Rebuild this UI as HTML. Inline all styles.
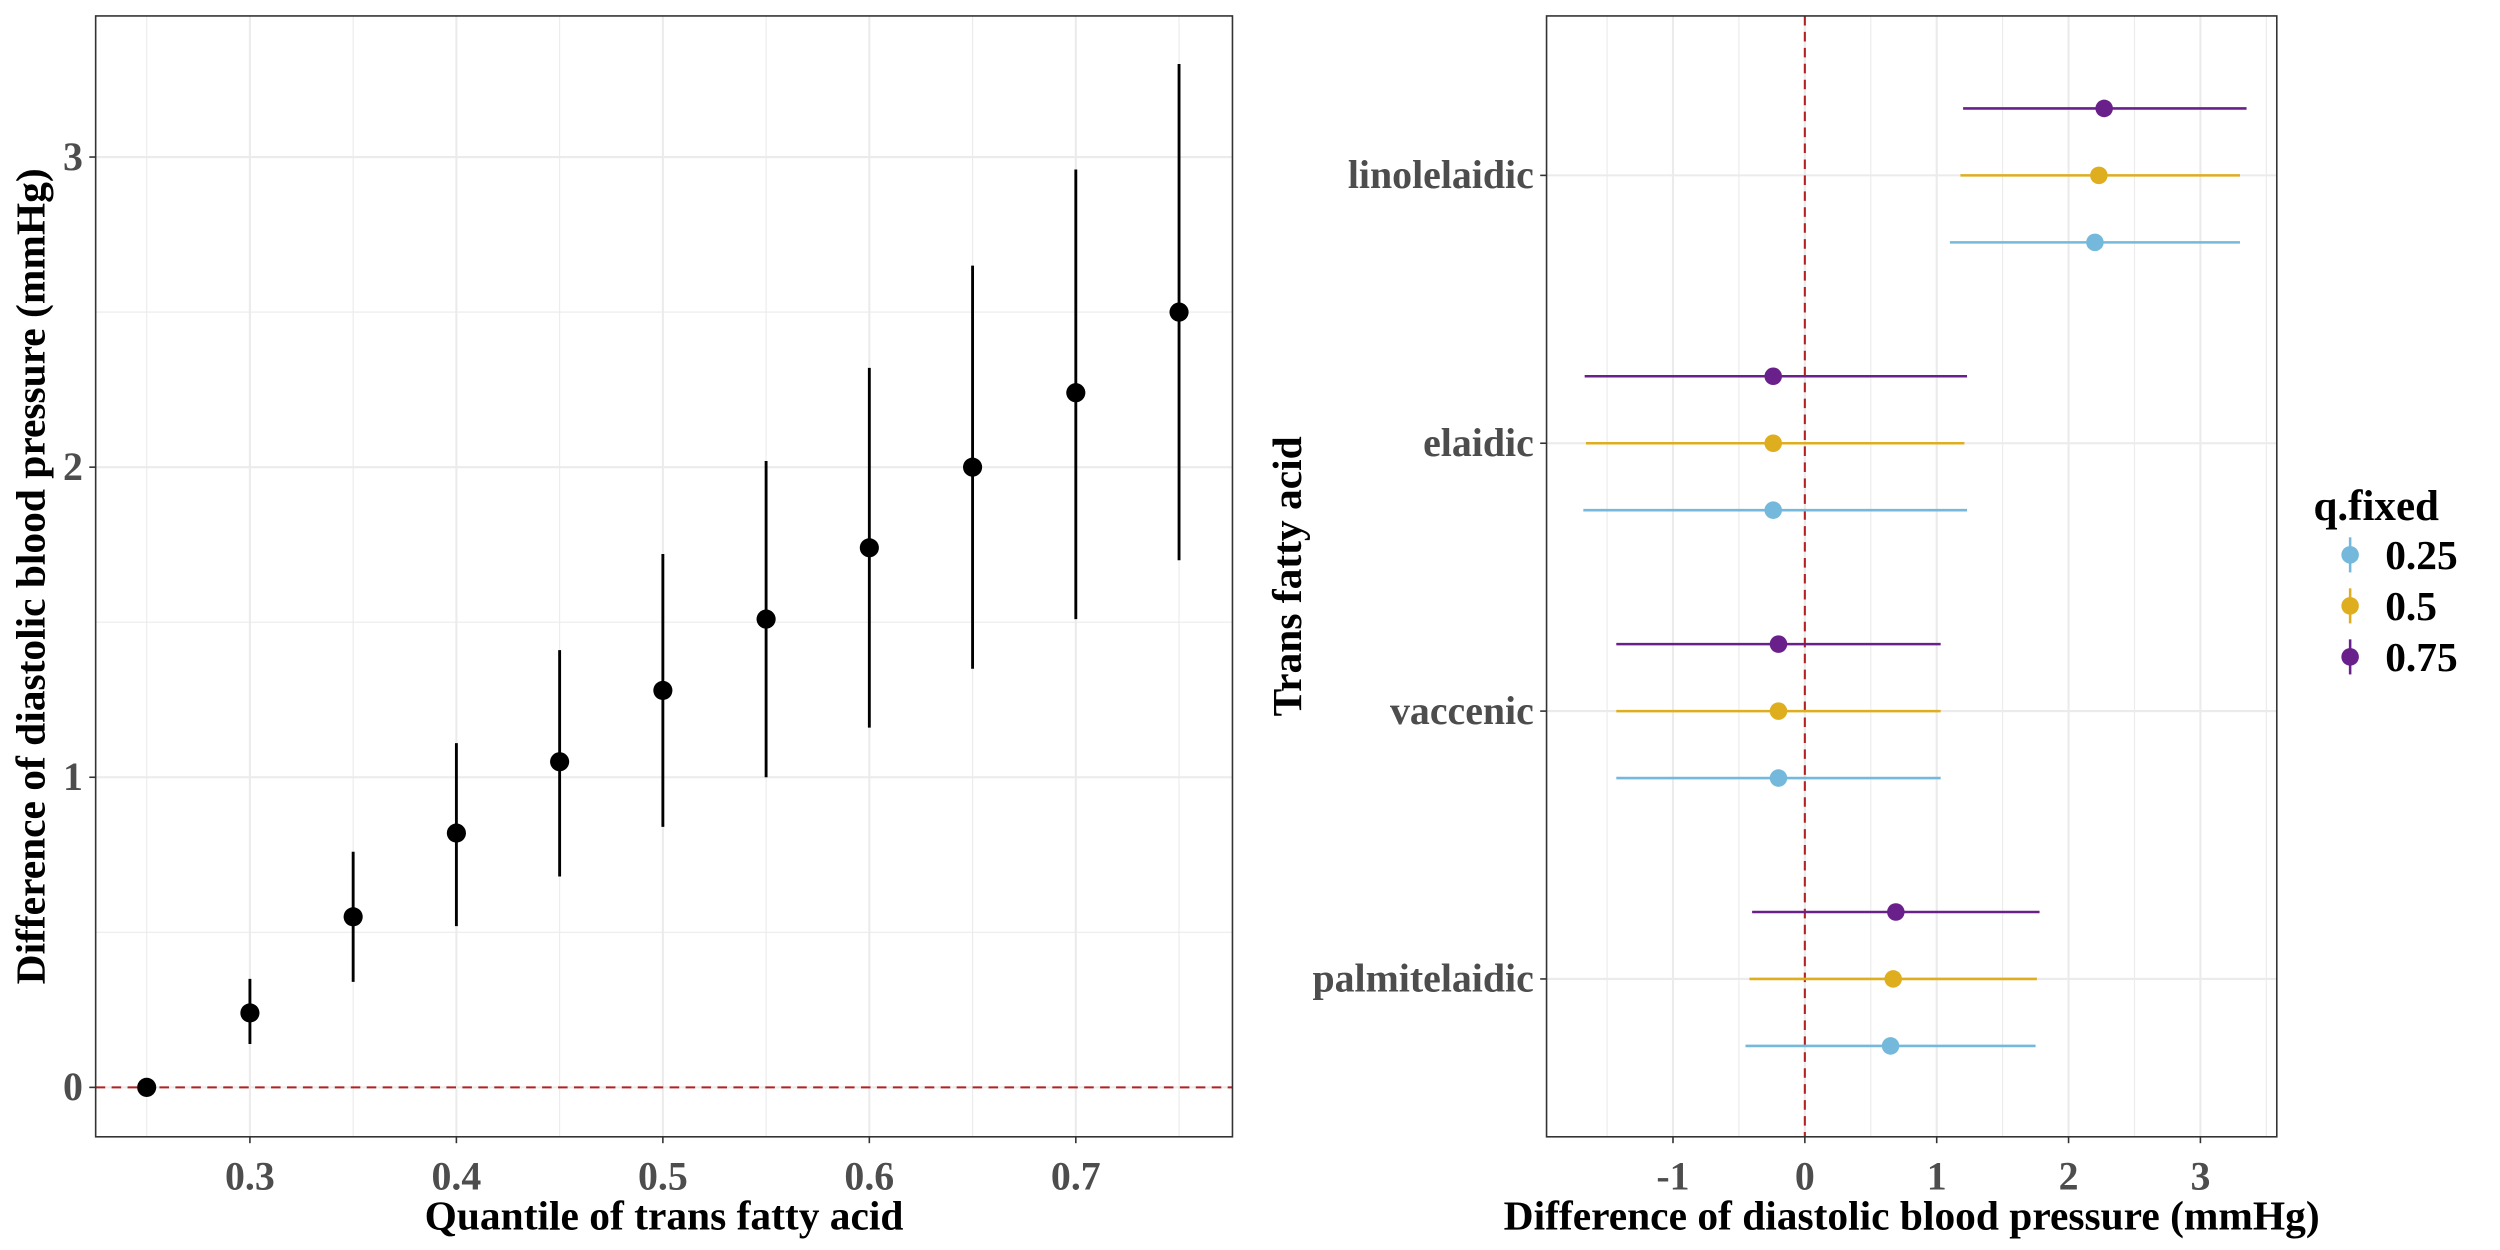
<!DOCTYPE html>
<html><head><meta charset="utf-8"><style>
html,body{margin:0;padding:0;background:#fff;}
svg{display:block;font-family:"Liberation Serif",serif;font-weight:bold;}
</style></head><body>
<svg id="chart" width="2500" height="1250" viewBox="0 0 1568 784" xmlns="http://www.w3.org/2000/svg"></svg>
<script>
// Left panel data
const quantiles = [0.25,0.30,0.35,0.40,0.45,0.50,0.55,0.60,0.65,0.70,0.75];
const estimates = [0,0.24,0.55,0.82,1.05,1.28,1.51,1.74,2.00,2.24,2.50];
const lowerCI = [0,0.14,0.34,0.52,0.68,0.84,1.00,1.16,1.35,1.51,1.70];
const upperCI = [0,0.35,0.76,1.11,1.41,1.72,2.02,2.32,2.65,2.96,3.30];
const leftXTicks = [0.3,0.4,0.5,0.6,0.7];
const leftYTicks = [0,1,2,3];
// Right panel data
const acids = ["palmitelaidic","vaccenic","elaidic","linolelaidic"];
const qLevels = ["0.25","0.5","0.75"];
const est025 = [0.65,-0.20,-0.24,2.20];
const est050 = [0.67,-0.20,-0.24,2.23];
const est075 = [0.69,-0.20,-0.24,2.27];
const lo025 = [-0.45,-1.43,-1.68,1.10];
const lo050 = [-0.42,-1.43,-1.66,1.18];
const lo075 = [-0.40,-1.43,-1.67,1.20];
const hi025 = [1.75,1.03,1.23,3.30];
const hi050 = [1.76,1.03,1.21,3.30];
const hi075 = [1.78,1.03,1.23,3.35];
const rightXTicks = [-1,0,1,2,3];

const NS="http://www.w3.org/2000/svg";
const svg=document.getElementById('chart');
function mk(tag,attrs,parent){const e=document.createElementNS(NS,tag);for(const k in attrs)e.setAttribute(k,attrs[k]);(parent||svg).appendChild(e);return e;}
const TICK=25, TITLE=26;

// ---------- Left panel ----------
const L={x0:60,x1:773,y0:10,y1:713};
const lx=v=>92+(v-0.25)*1295;
const ly=v=>682-v*194.5;
const gL=mk('g',{});


for(const v of [0.25,0.35,0.45,0.55,0.65,0.75]){const l=mk('line',{x1:lx(v),x2:lx(v),y1:L.y0,y2:L.y1,stroke:'#ebebeb','stroke-width':0.7},gL);}
for(const v of [0.5,1.5,2.5]){const l=mk('line',{x1:L.x0,x2:L.x1,y1:ly(v),y2:ly(v),stroke:'#ebebeb','stroke-width':0.7},gL);}
for(const v of leftXTicks){const l=mk('line',{x1:lx(v),x2:lx(v),y1:L.y0,y2:L.y1,stroke:'#ebebeb','stroke-width':1.3},gL);
 const t=mk('line',{x1:lx(v),x2:lx(v),y1:L.y1,y2:L.y1+4,stroke:'#333','stroke-width':1},gL);
 const tx=mk('text',{x:lx(v),y:L.y1+33,'text-anchor':'middle','font-size':TICK,fill:'#4d4d4d'},gL);tx.textContent=String(v);}
for(const v of leftYTicks){const l=mk('line',{x1:L.x0,x2:L.x1,y1:ly(v),y2:ly(v),stroke:'#ebebeb','stroke-width':1.3},gL);
 const t=mk('line',{x1:L.x0-4,x2:L.x0,y1:ly(v),y2:ly(v),stroke:'#333','stroke-width':1},gL);
 const tx=mk('text',{x:L.x0-8,y:ly(v)+8,'text-anchor':'end','font-size':TICK,fill:'#4d4d4d'},gL);tx.textContent=String(v);}
const ref=mk('line',{x1:L.x0,x2:L.x1,y1:ly(0),y2:ly(0),stroke:'#b22222','stroke-width':1.3,'stroke-dasharray':'6,4'},gL);

quantiles.forEach((q,i)=>{
 const e=mk('line',{x1:lx(q),x2:lx(q),y1:ly(lowerCI[i]),y2:ly(upperCI[i]),stroke:'#000','stroke-width':1.8},gL);
 
 const c=mk('circle',{cx:lx(q),cy:ly(estimates[i]),r:6,fill:'#000'},gL);
 
});
const bL=mk('rect',{x:L.x0,y:L.y0,width:L.x1-L.x0,height:L.y1-L.y0,fill:'none',stroke:'#333','stroke-width':1},gL);

let t1=mk('text',{x:(L.x0+L.x1)/2,y:771,'text-anchor':'middle','font-size':TITLE,fill:'#000'},gL);
t1.textContent='Quantile of trans fatty acid';
let t2=mk('text',{x:0,y:0,'text-anchor':'middle','font-size':TITLE,fill:'#000',transform:'translate(28,'+((L.y0+L.y1)/2)+') rotate(-90)'},gL);
t2.textContent='Difference of diastolic blood pressure (mmHg)';

// ---------- Right panel ----------
const R={x0:970,x1:1428,y0:10,y1:713};
const rx=v=>1132+v*82.7;
const ry=i=>614-i*168;
const gR=mk('g',{});


for(const v of [-1.5,-0.5,0.5,1.5,2.5,3.5]){const l=mk('line',{x1:rx(v),x2:rx(v),y1:R.y0,y2:R.y1,stroke:'#ebebeb','stroke-width':0.7},gR);}
for(const v of rightXTicks){const l=mk('line',{x1:rx(v),x2:rx(v),y1:R.y0,y2:R.y1,stroke:'#ebebeb','stroke-width':1.3},gR);
 const t=mk('line',{x1:rx(v),x2:rx(v),y1:R.y1,y2:R.y1+4,stroke:'#333','stroke-width':1},gR);
 const tx=mk('text',{x:rx(v),y:R.y1+33,'text-anchor':'middle','font-size':TICK,fill:'#4d4d4d'},gR);tx.textContent=String(v);}
acids.forEach((a,i)=>{const l=mk('line',{x1:R.x0,x2:R.x1,y1:ry(i),y2:ry(i),stroke:'#ebebeb','stroke-width':1.3},gR);
 const t=mk('line',{x1:R.x0-4,x2:R.x0,y1:ry(i),y2:ry(i),stroke:'#333','stroke-width':1},gR);
 const tx=mk('text',{x:R.x0-8,y:ry(i)+8,'text-anchor':'end','font-size':TICK,fill:'#4d4d4d'},gR);tx.textContent=a;});
const ref2=mk('line',{x1:rx(0),x2:rx(0),y1:R.y0,y2:R.y1,stroke:'#b22222','stroke-width':1.3,'stroke-dasharray':'6,4'},gR);

const colors=['#74b9dc','#dfae1f','#6a208a'];
const offs=[42,0,-42];
const series=[[est025,lo025,hi025],[est050,lo050,hi050],[est075,lo075,hi075]];
series.forEach((s,k)=>{acids.forEach((a,i)=>{const y=ry(i)+offs[k];
 const e=mk('line',{x1:rx(s[1][i]),x2:rx(s[2][i]),y1:y,y2:y,stroke:colors[k],'stroke-width':1.6},gR);
 
 const c=mk('circle',{cx:rx(s[0][i]),cy:y,r:5.5,fill:colors[k]},gR);
 });});
const bR=mk('rect',{x:R.x0,y:R.y0,width:R.x1-R.x0,height:R.y1-R.y0,fill:'none',stroke:'#333','stroke-width':1},gR);

let t3=mk('text',{x:(R.x0+R.x1)/2,y:771,'text-anchor':'middle','font-size':TITLE,fill:'#000'},gR);
t3.textContent='Difference of diastolic blood pressure (mmHg)';
let t4=mk('text',{x:0,y:0,'text-anchor':'middle','font-size':TITLE,fill:'#000',transform:'translate(816,'+((R.y0+R.y1)/2)+') rotate(-90)'},gR);
t4.textContent='Trans fatty acid';

// ---------- Legend ----------
const gLeg=mk('g',{});


let lt=mk('text',{x:1451,y:326,'font-size':27,fill:'#000'},gLeg);
lt.textContent='q.fixed';
qLevels.forEach((q,k)=>{const y=348+k*32;
 const l=mk('line',{x1:1474,x2:1474,y1:y-11,y2:y+11,stroke:colors[k],'stroke-width':1.6},gLeg);
 const c=mk('circle',{cx:1474,cy:y,r:5.5,fill:colors[k]},gLeg);
 const tx=mk('text',{x:1496,y:y+9,'font-size':26,fill:'#000'},gLeg);tx.textContent=q;});
</script>
</body></html>
